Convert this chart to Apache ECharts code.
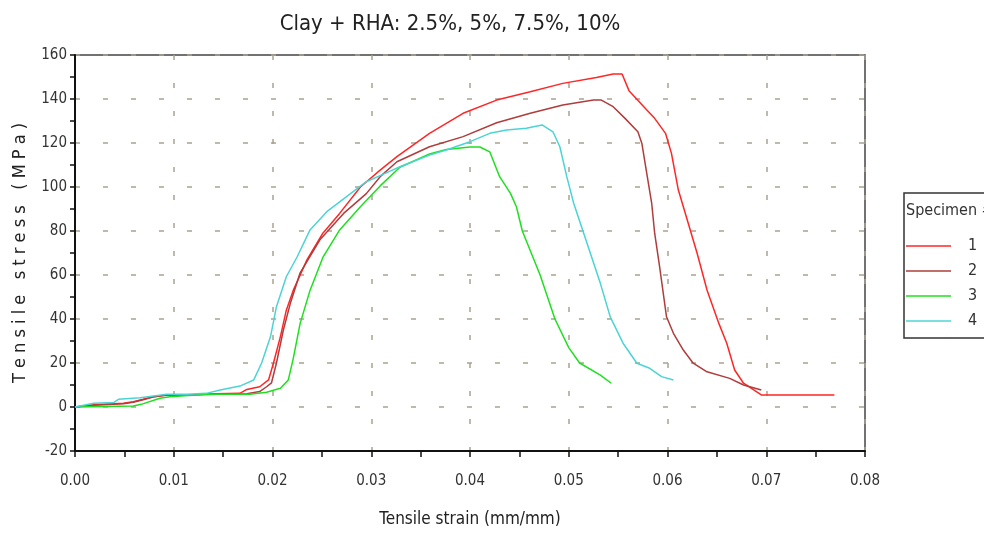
<!DOCTYPE html>
<html>
<head>
<meta charset="utf-8">
<script src="https://cdn.jsdelivr.net/npm/echarts@6/dist/echarts.min.js"></script>
<style>
  html, body { margin: 0; padding: 0; background: #fff; }
  #main { width: 984px; height: 539px; }
</style>
</head>
<body>
<div id="main"></div>
<script>
// specimen names and curve points [strain, stress]
var specimenNames = ['1', '2', '3', '4'];
var specimenColors = ['#ff2626', '#b03c3c', '#1ee01e', '#4cd4d4'];

var spec1 = [[0,0],[0.0019,1],[0.0049,1.7],[0.0059,2.4],[0.0069,3.5],[0.0079,4.7],[0.0093,5.5],[0.0113,5.5],
  [0.0143,6],[0.0167,6.2],[0.0174,8],[0.0187,9.2],[0.0196,12.3],[0.0201,20],[0.0208,32],[0.0214,44],
  [0.0221,53],[0.0235,67],[0.0251,79],[0.0268,88],[0.0289,100],[0.0309,107.7],[0.0326,113.8],[0.0359,124.4],
  [0.0393,133.5],[0.0427,139.5],[0.0461,143.3],[0.0494,147.1],[0.0528,149.8],[0.0545,151.4],[0.0554,151.4],
  [0.0561,143.8],[0.0576,136.5],[0.0587,131.2],[0.0598,124.4],[0.0604,115.3],[0.0611,98.6],[0.0621,83.5],
  [0.0630,69.9],[0.0640,53.2],[0.0652,38],[0.0660,29],[0.0668,16.8],[0.0677,10.8],[0.0695,5.5],[0.0769,5.5]];

var spec2 = [[0,0],[0.0019,0.8],[0.0049,1.5],[0.0059,2.2],[0.0069,3.3],[0.0079,4.5],[0.0093,5.5],[0.0113,5.5],
  [0.0143,5.8],[0.0174,6],[0.0187,7],[0.0194,9.2],[0.0199,11],[0.0204,20],[0.0211,35],[0.0218,47],
  [0.0228,61],[0.0248,76],[0.0272,88],[0.0295,97],[0.0309,104.7],[0.0326,111.5],[0.0359,118.3],[0.0393,122.9],
  [0.0427,129.2],[0.0461,133.5],[0.0494,137.3],[0.0525,139.5],[0.0533,139.5],[0.0545,136.5],[0.0557,131.2],
  [0.0570,125.1],[0.0574,119.9],[0.0579,106.2],[0.0584,92.6],[0.0587,79],[0.0592,63.8],[0.0599,41],
  [0.0606,33.5],[0.0616,25.9],[0.0626,19.9],[0.0640,16],[0.0663,13],[0.0677,10],[0.0695,7.7]];

var spec3 = [[0,0],[0.0059,0.5],[0.0067,1.2],[0.0086,4],[0.0096,4.7],[0.0133,5.8],[0.0177,5.8],[0.0194,6.7],
  [0.0208,8.5],[0.0216,12.3],[0.0221,22],[0.0228,38],[0.0238,53],[0.0251,68],[0.0268,80.5],[0.0289,91],
  [0.0309,100.5],[0.0329,109],[0.0359,115],[0.0376,117.1],[0.0400,118.2],[0.0410,118.2],[0.0420,116],
  [0.0430,104.7],[0.0441,97.1],[0.0447,91],[0.0453,80],[0.0471,60],[0.0486,40],[0.0500,27],[0.0511,20],
  [0.0532,14.5],[0.0543,10.8]];

var spec4 = [[0,0],[0.0019,1.7],[0.0039,2],[0.0044,3.5],[0.0066,4.2],[0.0093,5.8],[0.0114,5.8],[0.0133,6.2],
  [0.0147,7.7],[0.0167,9.5],[0.0181,12.3],[0.0189,20],[0.0198,32],[0.0204,45.6],[0.0214,59.2],[0.0225,68.3],
  [0.0238,80.5],[0.0255,88.8],[0.0275,95.6],[0.0295,102.4],[0.0314,106.2],[0.0329,109.2],[0.0359,114.5],
  [0.0376,116.8],[0.0400,120.6],[0.0420,124.4],[0.0437,125.9],[0.0457,126.7],[0.0473,128.2],[0.0484,125.1],
  [0.0491,118.3],[0.0498,104.7],[0.0505,92.6],[0.0532,56.2],[0.0542,41],[0.0555,29],[0.0569,19.9],
  [0.0582,17.6],[0.0594,13.8],[0.0606,12.3]];

var specData = [spec1, spec2, spec3, spec4];

var fontCond = '"DejaVu Sans Condensed", "DejaVu Sans", sans-serif';

var chart = echarts.init(document.getElementById('main'));

var series = [];
for (var i = 0; i < specData.length; i++) {
  series.push({
    name: specimenNames[i],
    type: 'line',
    data: specData[i],
    symbol: 'none',
    lineStyle: { color: specimenColors[i], width: 1.5 },
    itemStyle: { color: specimenColors[i] },
    animation: false
  });
}

var gridDash = { color: '#a8a290', width: 1.5, type: [5, 23] };

var option = {
  backgroundColor: '#fff',
  animation: false,
  title: {
    text: 'Clay + RHA: 2.5%, 5%, 7.5%, 10%',
    left: 445,
    top: 8,
    textAlign: 'center',
    textStyle: { fontFamily: fontCond, fontSize: 22, fontWeight: 'normal', color: '#222' }
  },
  grid: {
    left: 75, right: 119, top: 55, bottom: 88,
    show: true, borderColor: '#444', borderWidth: 1.5
  },
  xAxis: {
    type: 'value',
    min: 0, max: 0.08, interval: 0.01,
    name: 'Tensile strain (mm/mm)',
    nameLocation: 'middle',
    nameGap: 60,
    nameTextStyle: { fontFamily: fontCond, fontSize: 17, color: '#222' },
    axisLine: { onZero: false, lineStyle: { color: '#111', width: 2 } },
    axisTick: { show: true, length: 6, lineStyle: { color: '#111', width: 1.5 } },
    minorTick: { show: true, splitNumber: 2, length: 6, lineStyle: { color: '#111', width: 1.5 } },
    axisLabel: {
      margin: 23,
      fontFamily: fontCond, fontSize: 15, color: '#333',
      formatter: function (v) { return v.toFixed(2); }
    },
    splitLine: { show: true, lineStyle: gridDash }
  },
  yAxis: {
    type: 'value',
    min: -20, max: 160, interval: 20,
    name: 'T e n s i l e   s t r e s s   ( M P a )',
    nameLocation: 'middle',
    nameGap: 46,
    nameTextStyle: { fontFamily: fontCond, fontSize: 18, color: '#222' },
    axisLine: { onZero: false, lineStyle: { color: '#111', width: 2 } },
    axisTick: { show: true, length: 5, lineStyle: { color: '#111', width: 1.5 } },
    minorTick: { show: true, splitNumber: 2, length: 5, lineStyle: { color: '#111', width: 1.5 } },
    axisLabel: { margin: 8, fontFamily: fontCond, fontSize: 15, color: '#333' },
    splitLine: { show: true, lineStyle: gridDash }
  },
  legend: {
    orient: 'vertical',
    left: 904,
    top: 193,
    data: specimenNames,
    icon: 'path://M0,0 L45,0 L45,1.5 L0,1.5 Z',
    itemWidth: 45,
    itemHeight: 14,
    itemGap: 9,
    padding: [45, 60, 9, 2],
    borderColor: '#333',
    borderWidth: 1.5,
    textStyle: { fontFamily: fontCond, fontSize: 16, color: '#333', padding: [0, 0, 0, 12] }
  },
  graphic: [{
    type: 'text',
    left: 906,
    top: 203,
    style: { text: 'Specimen #', fontFamily: fontCond, fontSize: 16, fill: '#333' }
  }],
  series: series
};

chart.setOption(option);
</script>
</body>
</html>
